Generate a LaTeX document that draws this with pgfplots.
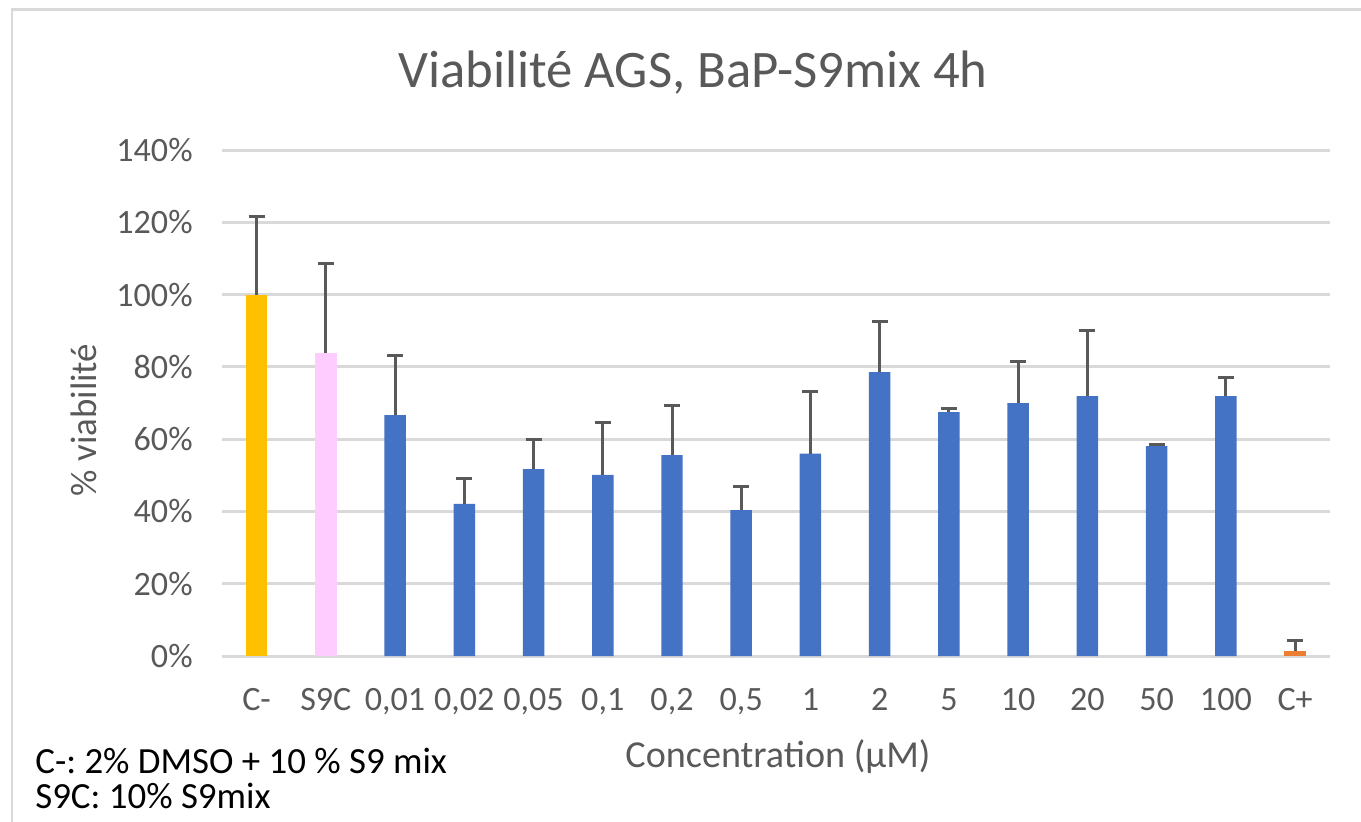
\documentclass[border=0pt]{standalone}
\usepackage{fontspec}
\setmainfont{Carlito}
\usepackage{pgfplots}
\pgfplotsset{compat=1.18}
\frenchspacing

\definecolor{txtgray}{HTML}{595959}
\definecolor{gridgray}{HTML}{D9D9D9}
\definecolor{cneg}{HTML}{FFC000}
\definecolor{s9c}{HTML}{FFCCFF}
\definecolor{bblue}{HTML}{4472C4}
\definecolor{cpos}{HTML}{ED7D31}

\begin{document}
\begin{tikzpicture}
\begin{scope}[x=0.02cm,y=0.02cm]
\useasboundingbox (0,0) rectangle (1361,821);
\draw[gridgray, line width=0.06cm] (12,-40) rectangle (1420,811);
\end{scope}

\begin{axis}[
  at={(4.44cm,3.30cm)}, anchor=south west,
  scale only axis, width=22.16cm, height=10.12cm,
  xmin=-0.5, xmax=15.5, ymin=0, ymax=140,
  axis line style={draw=none},
  major tick length=0pt,
  ytick={0,20,...,140},
  yticklabel={\pgfmathprintnumber{\tick}\%},
  xtick={0,...,15},
  xticklabels={C-,S9C,{0,01},{0,02},{0,05},{0,1},{0,2},{0,5},1,2,5,10,20,50,100,C+},
  ymajorgrids,
  grid style={gridgray, line width=0.06cm},
  tick label style={font=\fontsize{19.4}{22}\selectfont, text=txtgray},
  /pgf/number format/assume math mode=true,
  yticklabel style={anchor=east, inner sep=0pt, xshift=-0.58cm},
  xticklabel style={anchor=base, inner sep=0pt, yshift=-1.08cm},
  ybar, bar width=0.43cm, bar shift=0pt,
  error bars/y dir=plus, error bars/y explicit,
  error bars/error bar style={line width=0.06cm, txtgray},
  error bars/error mark options={rotate=90, mark size=0.16cm, line width=0.06cm, txtgray},
  clip=false,
]
% C-
\addplot[fill=cneg, draw=none] coordinates {(0,100) +- (0,21.5)};
% S9C
\addplot[fill=s9c, draw=none] coordinates {(1,83.8) +- (0,24.9)};
% concentrations
\addplot[fill=bblue, draw=none] coordinates {
  (2,66.7) +- (0,16.6)
  (3,42.1) +- (0,6.9)
  (4,51.7) +- (0,8.3)
  (5,50.1) +- (0,14.4)
  (6,55.6) +- (0,13.6)
  (7,40.4) +- (0,6.5)
  (8,56.0) +- (0,17.1)
  (9,78.6) +- (0,14.1)
  (10,67.5) +- (0,1.1)
  (11,70.0) +- (0,11.6)
  (12,71.9) +- (0,18.3)
  (13,58.1) +- (0,0.3)
  (14,71.9) +- (0,5.3)
};
% C+
\addplot[fill=cpos, draw=none] coordinates {(15,1.4) +- (0,3.0)};
\end{axis}

\begin{scope}[x=0.02cm,y=0.02cm]
\node[text=txtgray, font=\fontsize{30}{34}\selectfont] at (693,748) {Viabilité AGS, BaP-S9mix 4h};
\node[text=txtgray, font=\fontsize{21.7}{24}\selectfont] at (778,64) {Concentration (µM)};
\node[text=txtgray, font=\fontsize{21}{24}\selectfont, rotate=90] at (84,401) {\% viabilité};
\node[anchor=north west, inner sep=0pt, align=left, font=\fontsize{21}{20}\selectfont] at (35,73) {C-: 2\% DMSO + 10 \% S9 mix\\S9C: 10\% S9mix};
\end{scope}
\end{tikzpicture}
\end{document}
